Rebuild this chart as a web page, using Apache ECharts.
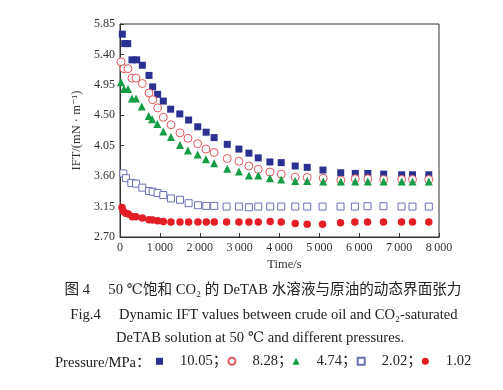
<!DOCTYPE html>
<html>
<head>
<meta charset="utf-8">
<script src="https://cdn.jsdelivr.net/npm/echarts@6/dist/echarts.min.js"></script>
<style>html,body{margin:0;padding:0;background:#fff}#c{width:503px;height:390px}</style>
</head>
<body>
<div id="c"></div>
<script>
// ---- data (Time/s, IFT mN/m) ----
var seriesNames = ['10.05', '8.28', '4.74', '2.02', '1.02'];
var yTicks = [2.70, 3.15, 3.60, 4.05, 4.50, 4.95, 5.40, 5.85];
var xTicks = [0, 1000, 2000, 3000, 4000, 5000, 6000, 7000, 8000];

var t1005 = [58,117,193,300,418,560,727,819,944,1086,1270,1500,1721,1950,2160,2360,2690,2982,3233,3467,3760,4043,4394,4695,5090,5535,5900,6215,6612,7064,7335,7744];
var v1005 = [5.70,5.56,5.56,5.32,5.32,5.24,5.09,4.92,4.81,4.71,4.59,4.52,4.43,4.33,4.25,4.17,4.07,4.00,3.94,3.87,3.81,3.80,3.75,3.73,3.69,3.65,3.64,3.64,3.63,3.62,3.62,3.62];

var t828 = [25,100,200,300,401,560,727,819,944,1086,1280,1504,1704,1947,2155,2360,2690,2982,3233,3467,3760,4043,4394,4695,5096,5539,5900,6215,6612,7064,7335,7744];
var v828 = [5.29,5.19,5.19,5.05,5.05,4.97,4.83,4.73,4.61,4.47,4.36,4.24,4.16,4.08,4.00,3.95,3.86,3.82,3.75,3.70,3.66,3.63,3.585,3.58,3.57,3.54,3.56,3.56,3.55,3.55,3.55,3.55];

var t474 = [25,100,200,300,401,545,720,805,935,1086,1278,1504,1704,1947,2155,2360,2690,2982,3233,3467,3760,4043,4394,4695,5096,5539,5900,6215,6612,7064,7335,7744];
var v474 = [4.99,4.89,4.89,4.75,4.75,4.63,4.49,4.44,4.37,4.26,4.18,4.06,3.98,3.92,3.85,3.79,3.71,3.67,3.61,3.61,3.57,3.55,3.53,3.53,3.52,3.52,3.52,3.52,3.52,3.52,3.52,3.52];

var t202 = [83,150,284,401,560,727,819,944,1086,1278,1504,1721,1955,2164,2364,2673,2982,3233,3467,3767,4043,4394,4695,5080,5530,5890,6208,6608,7060,7335,7744];
var v202 = [3.64,3.57,3.50,3.49,3.43,3.38,3.37,3.35,3.32,3.27,3.25,3.20,3.17,3.16,3.16,3.15,3.15,3.14,3.15,3.15,3.15,3.15,3.15,3.15,3.15,3.15,3.155,3.155,3.15,3.15,3.15];

var t102 = [50,83,142,209,309,401,560,727,819,944,1086,1278,1504,1721,1955,2164,2364,2673,2982,3233,3467,3767,4043,4394,4695,5080,5530,5890,6208,6608,7060,7335,7744];
var v102 = [3.135,3.08,3.05,3.04,3.00,3.00,2.98,2.955,2.95,2.94,2.93,2.92,2.92,2.92,2.92,2.92,2.92,2.92,2.92,2.92,2.92,2.93,2.92,2.90,2.89,2.89,2.91,2.92,2.92,2.92,2.92,2.92,2.92];

function pairs(t, v) { return t.map(function (x, i) { return [x, v[i]]; }); }

var serif = '"Liberation Serif","Times New Roman","DejaVu Serif","Noto Sans CJK SC",serif';
var chart = echarts.init(document.getElementById('c'), null, {renderer: 'canvas'});

var styles = [
  {symbol: 'rect', size: 7, color: '#2b3190', fill: true},
  {symbol: 'circle', size: 8, color: '#e2575a', fill: false},
  {symbol: 'triangle', size: 8, color: '#139d45', fill: true},
  {symbol: 'rect', size: 7, color: '#6a70b8', fill: false},
  {symbol: 'circle', size: 7.5, color: '#e31e25', fill: true}
];
var datas = [pairs(t1005, v1005), pairs(t828, v828), pairs(t474, v474), pairs(t202, v202), pairs(t102, v102)];

var series = seriesNames.map(function (n, i) {
  var s = styles[i];
  return {
    name: n, type: 'scatter', data: datas[i],
    symbol: s.symbol, symbolSize: s.size,
    itemStyle: s.fill ? {color: s.color, opacity: 1} : {color: '#fff', borderColor: s.color, borderWidth: 1, opacity: 1},
    emphasis: {disabled: true}
  };
});

var capFont = '14.6px ' + serif;

chart.setOption({
  animation: false,
  backgroundColor: '#fff',
  grid: {left: 120, right: 64, top: 24, bottom: 153, show: true, borderColor: '#333', borderWidth: 1},
  xAxis: {
    type: 'value', min: xTicks[0], max: xTicks[xTicks.length - 1], interval: 1000,
    name: 'Time/s', nameLocation: 'middle', nameGap: 20,
    nameTextStyle: {fontFamily: serif, fontSize: 12.5, color: '#333', padding: [0, 0, 0, 10]},
    axisLine: {lineStyle: {color: '#333', width: 1}},
    axisTick: {inside: true, length: 4, lineStyle: {color: '#333'}},
    axisLabel: {fontFamily: serif, fontSize: 12, color: '#333', margin: 5,
      formatter: function (v) { return v === 0 ? '0' : (v / 1000) + '\u2009000'; }},
    splitLine: {show: false}
  },
  yAxis: {
    type: 'value', min: yTicks[0], max: yTicks[yTicks.length - 1], interval: 0.45,
    name: 'IFT/(mN · m⁻¹)', nameLocation: 'middle', nameGap: 23,
    nameTextStyle: {fontFamily: serif, fontSize: 12.5, color: '#333'},
    axisLine: {lineStyle: {color: '#333', width: 1}},
    axisTick: {inside: true, length: 4, lineStyle: {color: '#333'}},
    axisLabel: {fontFamily: serif, fontSize: 12, color: '#333', margin: 5,
      formatter: function (v) { return v.toFixed(2); }},
    splitLine: {show: false}
  },
  legend: {
    left: 151, top: 349, itemWidth: 7, itemHeight: 7, itemGap: 0,
    data: seriesNames,
    textStyle: {fontFamily: serif, fontSize: 14.6, color: '#222',
      rich: {p: {fontFamily: serif, fontSize: 14.6, color: '#222', padding: [0, 0, 0, 12]}}},
    formatter: function (n) { return '{p|' + n + (n === '1.02' ? '' : '；') + '}'; },
    selectedMode: false
  },
  graphic: [
    {type: 'text', x: 55, y: 363, style: {text: 'Pressure/MPa：', font: capFont, fill: '#222', textVerticalAlign: 'middle'}},
    {type: 'text', x: 263, y: 290, style: {text: '图 4\u2003 50 ℃饱和 CO₂ 的 DeTAB 水溶液与原油的动态界面张力', font: capFont, fill: '#222', textAlign: 'center', textVerticalAlign: 'middle'}},
    {type: 'text', x: 264, y: 315, style: {text: 'Fig.4\u2003 Dynamic IFT values between crude oil and CO₂-saturated', font: capFont, fill: '#222', textAlign: 'center', textVerticalAlign: 'middle'}},
    {type: 'text', x: 260, y: 338, style: {text: 'DeTAB solution at 50 ℃ and different pressures.', font: capFont, fill: '#222', textAlign: 'center', textVerticalAlign: 'middle'}}
  ],
  series: series
});
</script>
</body>
</html>
